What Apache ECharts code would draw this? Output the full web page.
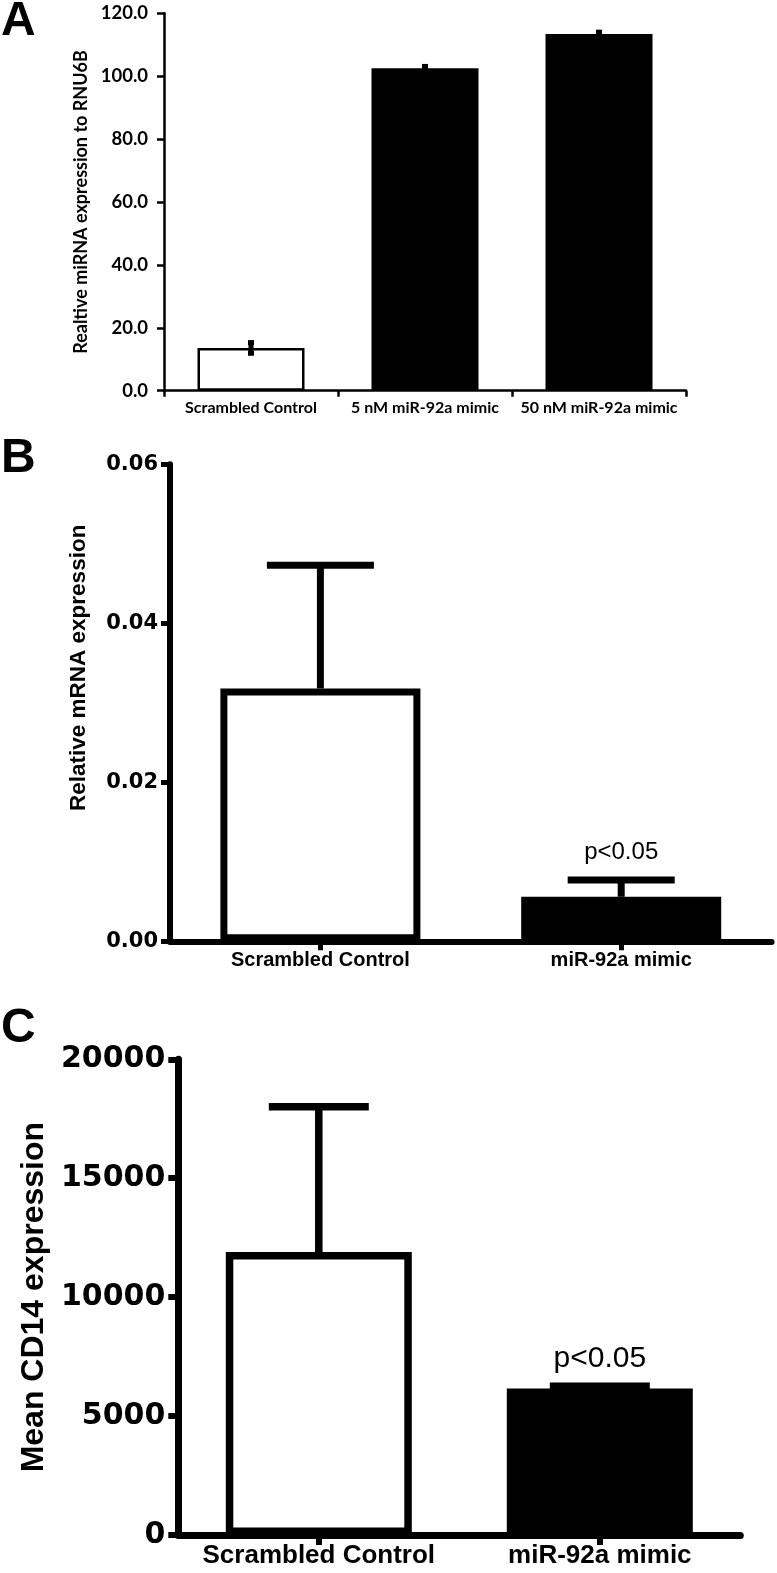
<!DOCTYPE html>
<html>
<head>
<meta charset="utf-8">
<script src="https://cdn.jsdelivr.net/npm/echarts@6/dist/echarts.min.js"></script>
<style>
html,body{margin:0;padding:0;background:#fff;}
#c{width:777px;height:1573px;}
</style>
</head>
<body>
<div id="c"></div>
<script>
// ---- Panel A data ----
const catsA = ['Scrambled Control', '5 nM miR-92a mimic', '50 nM miR-92a mimic'];
const valsA = [13.6, 102.5, 113.4];
const errA = [1.7, 0.6, 0.6];
const fillA = ['#ffffff', '#000000', '#000000'];
const ticksA = [0, 20, 40, 60, 80, 100, 120];

// ---- Panel B data ----
const catsB = ['Scrambled Control', 'miR-92a mimic'];
const valsB = [0.0318, 0.0056];
const errB = [0.0155, 0.0021];
const fillB = ['#ffffff', '#000000'];
const sigB = ['', 'p<0.05'];
const ticksB = [0, 0.02, 0.04, 0.06];

// ---- Panel C data ----
const catsC = ['Scrambled Control', 'miR-92a mimic'];
const valsC = [11900, 6160];
const errC = [6100, 90];
const fillC = ['#ffffff', '#000000'];
const sigC = ['', 'p<0.05'];
const ticksC = [0, 5000, 10000, 15000, 20000];

const chart = echarts.init(document.getElementById('c'), null, {renderer: 'canvas'});

function errRenderer(capW, lw, twoSided, sig, sigSize, sigGap) {
  return function (params, api) {
    const i = api.value(0), v = api.value(1), e = api.value(2);
    const top = api.coord([i, v + e]);
    const base = api.coord([i, twoSided ? v - e : v]);
    const st = {stroke: '#000', lineWidth: lw, fill: null};
    const children = [
      {type: 'line', shape: {x1: top[0], y1: base[1], x2: top[0], y2: top[1]}, style: st},
      {type: 'line', shape: {x1: top[0] - capW / 2, y1: top[1], x2: top[0] + capW / 2, y2: top[1]}, style: st}
    ];
    if (twoSided) {
      children.push({type: 'line', shape: {x1: top[0] - capW / 2, y1: base[1], x2: top[0] + capW / 2, y2: base[1]}, style: st});
    }
    if (sig && sig[params.dataIndex]) {
      children.push({
        type: 'text',
        style: {
          text: sig[params.dataIndex], x: top[0], y: top[1] - sigGap,
          align: 'center', verticalAlign: 'bottom',
          font: 'normal ' + sigSize + 'px "Liberation Sans", Arial, sans-serif', fill: '#000'
        }
      });
    }
    return {type: 'group', children: children};
  };
}

const fA = 'Lato, "Liberation Sans", sans-serif';
const fB = '"Liberation Sans", Arial, sans-serif';
const fN = '"DejaVu Sans", "Liberation Sans", sans-serif';

const option = {
  animation: false,
  backgroundColor: '#fff',
  grid: [
    {left: 164, top: 13.3, width: 522, height: 377.4},
    {left: 170, top: 464.3, width: 601.6, height: 477},
    {left: 178.3, top: 1059.3, width: 562, height: 475.7}
  ],
  graphic: [
    {type: 'text', left: 1, top: -2, style: {text: 'A', font: 'bold 48px ' + fB, fill: '#000'}},
    {type: 'text', left: 1, top: 435, style: {text: 'B', font: 'bold 48px ' + fB, fill: '#000'}},
    {type: 'text', left: 1, top: 1005, style: {text: 'C', font: 'bold 48px ' + fB, fill: '#000'}}
  ],
  xAxis: [
    {
      gridIndex: 0, type: 'category', data: catsA, boundaryGap: true,
      axisLine: {lineStyle: {color: '#000', width: 2.5}},
      axisTick: {show: true, alignWithLabel: false, length: 6, lineStyle: {color: '#000', width: 2.5}},
      axisLabel: {color: '#000', fontFamily: fA, fontWeight: 'bold', fontSize: 16, margin: 9, interval: 0}
    },
    {
      gridIndex: 1, type: 'category', data: catsB, boundaryGap: true,
      axisLine: {lineStyle: {color: '#000', width: 6}},
      axisTick: {show: true, alignWithLabel: true, length: 9, lineStyle: {color: '#000', width: 5}},
      axisLabel: {color: '#000', fontFamily: fB, fontWeight: 'bold', fontSize: 20, margin: 9, interval: 0}
    },
    {
      gridIndex: 2, type: 'category', data: catsC, boundaryGap: true,
      axisLine: {lineStyle: {color: '#000', width: 7}},
      axisTick: {show: true, alignWithLabel: true, length: 10, lineStyle: {color: '#000', width: 6}},
      axisLabel: {color: '#000', fontFamily: fB, fontWeight: 'bold', fontSize: 26, margin: 8, interval: 0}
    }
  ],
  yAxis: [
    {
      gridIndex: 0, type: 'value', min: ticksA[0], max: ticksA[ticksA.length - 1], interval: ticksA[1] - ticksA[0],
      name: 'Realtive miRNA expression to RNU6B', nameLocation: 'middle', nameGap: 72,
      nameTextStyle: {color: '#000', fontFamily: fA, fontWeight: 'bold', fontSize: 18},
      splitLine: {show: false},
      axisLine: {show: true, lineStyle: {color: '#000', width: 2.5}},
      axisTick: {show: true, length: 7, lineStyle: {color: '#000', width: 2.5}},
      axisLabel: {color: '#000', fontFamily: fA, fontWeight: 'bold', fontSize: 18.5, margin: 16,
        formatter: v => v.toFixed(1)}
    },
    {
      gridIndex: 1, type: 'value', min: ticksB[0], max: ticksB[ticksB.length - 1], interval: ticksB[1] - ticksB[0],
      name: 'Relative mRNA expression', nameLocation: 'middle', nameGap: 80,
      nameTextStyle: {color: '#000', fontFamily: fB, fontWeight: 'bold', fontSize: 22.5, padding: [0, 0, 0, 70]},
      splitLine: {show: false},
      axisLine: {show: true, lineStyle: {color: '#000', width: 6}},
      axisTick: {show: true, length: 9, lineStyle: {color: '#000', width: 5}},
      axisLabel: {color: '#000', fontFamily: fN, fontWeight: 'bold', fontSize: 21, margin: 12,
        formatter: v => v.toFixed(2)}
    },
    {
      gridIndex: 2, type: 'value', min: ticksC[0], max: ticksC[ticksC.length - 1], interval: ticksC[1] - ticksC[0],
      name: 'Mean CD14 expression', nameLocation: 'middle', nameGap: 126,
      nameTextStyle: {color: '#000', fontFamily: fB, fontWeight: 'bold', fontSize: 32},
      splitLine: {show: false},
      axisLine: {show: true, lineStyle: {color: '#000', width: 7}},
      axisTick: {show: true, length: 10, lineStyle: {color: '#000', width: 6}},
      axisLabel: {color: '#000', fontFamily: fN, fontWeight: 'bold', fontSize: 30, margin: 13,
        formatter: v => String(v)}
    }
  ],
  series: [
    {
      type: 'bar', xAxisIndex: 0, yAxisIndex: 0, barWidth: 107,
      data: valsA.map((v, i) => ({value: v, itemStyle: {color: fillA[i]}})),
      itemStyle: {borderColor: '#000', borderWidth: 2.5}, z: 2
    },
    {
      type: 'custom', xAxisIndex: 0, yAxisIndex: 0, z: 5,
      renderItem: errRenderer(6, 5, true, null, 0, 0),
      encode: {x: 0, y: 1},
      data: valsA.map((v, i) => [i, v, errA[i]])
    },
    {
      type: 'bar', xAxisIndex: 1, yAxisIndex: 1, barWidth: 200,
      data: valsB.map((v, i) => ({value: v, itemStyle: {color: fillB[i]}})),
      itemStyle: {borderColor: '#000', borderWidth: 7}, z: 2
    },
    {
      type: 'custom', xAxisIndex: 1, yAxisIndex: 1, z: 5,
      renderItem: errRenderer(107, 7, false, sigB, 24, 16),
      encode: {x: 0, y: 1},
      data: valsB.map((v, i) => [i, v, errB[i]])
    },
    {
      type: 'bar', xAxisIndex: 2, yAxisIndex: 2, barWidth: 186,
      data: valsC.map((v, i) => ({value: v, itemStyle: {color: fillC[i]}})),
      itemStyle: {borderColor: '#000', borderWidth: 7.5}, z: 2
    },
    {
      type: 'custom', xAxisIndex: 2, yAxisIndex: 2, z: 5,
      renderItem: errRenderer(100, 7.5, false, sigC, 30, 13),
      encode: {x: 0, y: 1},
      data: valsC.map((v, i) => [i, v, errC[i]])
    }
  ]
};
chart.setOption(option);
</script>
</body>
</html>
